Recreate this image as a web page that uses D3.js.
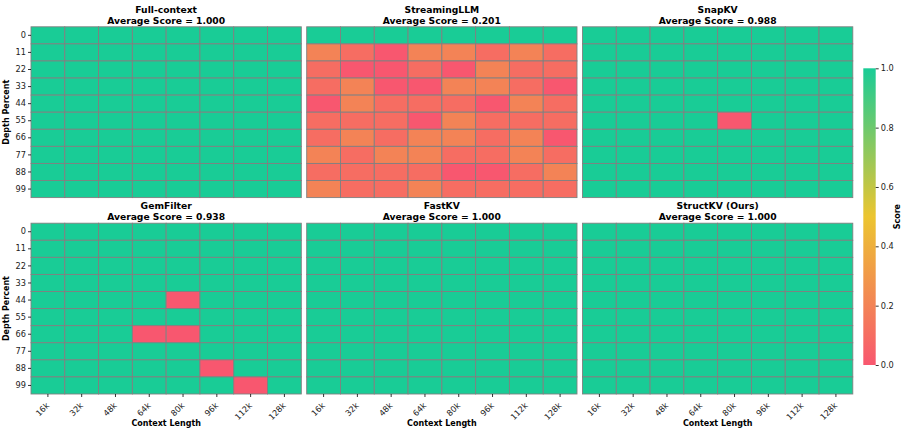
<!DOCTYPE html>
<html>
<head>
<meta charset="utf-8">
<script src="https://cdn.jsdelivr.net/npm/d3@7"></script>
<style>
  body { margin: 0; background: #fff; }
  svg { font-family: 'DejaVu Sans', sans-serif; }
  .axis path { display: none; }
  .axis line { stroke: #000; stroke-width: 0.8; }
  .axis text { font-family: 'DejaVu Sans', sans-serif; font-size: 8.2px; fill: #222; }
</style>
</head>
<body>
<div id="chart"></div>
<script>
'use strict';

var depths = [0, 11, 22, 33, 44, 55, 66, 77, 88, 99];
var contexts = ['16k', '32k', '48k', '64k', '80k', '96k', '112k', '128k'];
var methods = ['Full-context', 'StreamingLLM', 'SnapKV', 'GemFilter', 'FastKV', 'StructKV (Ours)'];
var averages = ['1.000', '0.201', '0.988', '0.938', '1.000', '1.000'];
var cbarTicks = [0, 0.2, 0.4, 0.6, 0.8, 1.0];

var fullContext = [
	[1, 1, 1, 1, 1, 1, 1, 1],
	[1, 1, 1, 1, 1, 1, 1, 1],
	[1, 1, 1, 1, 1, 1, 1, 1],
	[1, 1, 1, 1, 1, 1, 1, 1],
	[1, 1, 1, 1, 1, 1, 1, 1],
	[1, 1, 1, 1, 1, 1, 1, 1],
	[1, 1, 1, 1, 1, 1, 1, 1],
	[1, 1, 1, 1, 1, 1, 1, 1],
	[1, 1, 1, 1, 1, 1, 1, 1],
	[1, 1, 1, 1, 1, 1, 1, 1]
];
var streamingLLM = [
	[1, 1, 1, 1, 1, 1, 1, 1],
	[0.2, 0.1, 0.0, 0.2, 0.2, 0.1, 0.2, 0.1],
	[0.1, 0.0, 0.0, 0.1, 0.0, 0.2, 0.1, 0.1],
	[0.1, 0.2, 0.0, 0.0, 0.2, 0.2, 0.1, 0.0],
	[0.0, 0.2, 0.1, 0.1, 0.1, 0.0, 0.2, 0.1],
	[0.1, 0.1, 0.1, 0.0, 0.2, 0.1, 0.1, 0.1],
	[0.1, 0.2, 0.1, 0.2, 0.2, 0.1, 0.2, 0.0],
	[0.2, 0.1, 0.2, 0.2, 0.1, 0.1, 0.2, 0.1],
	[0.1, 0.1, 0.1, 0.1, 0.0, 0.0, 0.1, 0.2],
	[0.2, 0.1, 0.1, 0.2, 0.1, 0.1, 0.1, 0.1]
];
var snapKV = [
	[1, 1, 1, 1, 1, 1, 1, 1],
	[1, 1, 1, 1, 1, 1, 1, 1],
	[1, 1, 1, 1, 1, 1, 1, 1],
	[1, 1, 1, 1, 1, 1, 1, 1],
	[1, 1, 1, 1, 1, 1, 1, 1],
	[1, 1, 1, 1, 0, 1, 1, 1],
	[1, 1, 1, 1, 1, 1, 1, 1],
	[1, 1, 1, 1, 1, 1, 1, 1],
	[1, 1, 1, 1, 1, 1, 1, 1],
	[1, 1, 1, 1, 1, 1, 1, 1]
];
var gemFilter = [
	[1, 1, 1, 1, 1, 1, 1, 1],
	[1, 1, 1, 1, 1, 1, 1, 1],
	[1, 1, 1, 1, 1, 1, 1, 1],
	[1, 1, 1, 1, 1, 1, 1, 1],
	[1, 1, 1, 1, 0, 1, 1, 1],
	[1, 1, 1, 1, 1, 1, 1, 1],
	[1, 1, 1, 0, 0, 1, 1, 1],
	[1, 1, 1, 1, 1, 1, 1, 1],
	[1, 1, 1, 1, 1, 0, 1, 1],
	[1, 1, 1, 1, 1, 1, 0, 1]
];
var fastKV = [
	[1, 1, 1, 1, 1, 1, 1, 1],
	[1, 1, 1, 1, 1, 1, 1, 1],
	[1, 1, 1, 1, 1, 1, 1, 1],
	[1, 1, 1, 1, 1, 1, 1, 1],
	[1, 1, 1, 1, 1, 1, 1, 1],
	[1, 1, 1, 1, 1, 1, 1, 1],
	[1, 1, 1, 1, 1, 1, 1, 1],
	[1, 1, 1, 1, 1, 1, 1, 1],
	[1, 1, 1, 1, 1, 1, 1, 1],
	[1, 1, 1, 1, 1, 1, 1, 1]
];
var structKV = [
	[1, 1, 1, 1, 1, 1, 1, 1],
	[1, 1, 1, 1, 1, 1, 1, 1],
	[1, 1, 1, 1, 1, 1, 1, 1],
	[1, 1, 1, 1, 1, 1, 1, 1],
	[1, 1, 1, 1, 1, 1, 1, 1],
	[1, 1, 1, 1, 1, 1, 1, 1],
	[1, 1, 1, 1, 1, 1, 1, 1],
	[1, 1, 1, 1, 1, 1, 1, 1],
	[1, 1, 1, 1, 1, 1, 1, 1],
	[1, 1, 1, 1, 1, 1, 1, 1]
];
var scores = [fullContext, streamingLLM, snapKV, gemFilter, fastKV, structKV];

var W = 909, H = 434;
var colX = [31, 306.7, 582.5];
var rowY = [26.8, 223.2];
var pw = 270.3, ph = 170.8;

var color = d3.scaleLinear()
	.domain([0, 0.5, 1])
	.range(['#f8576f', '#ecc530', '#19cc96']);

var svg = d3.select('#chart').append('svg')
	.attr('width', W)
	.attr('height', H);

var x = d3.scaleBand().domain(contexts).range([0, pw]);
var y = d3.scaleBand().domain(depths).range([0, ph]);

methods.forEach(function(name, k){
	var col = k % 3, row = Math.floor(k / 3);
	var g = svg.append('g')
		.attr('transform', 'translate(' + colX[col] + ',' + rowY[row] + ')');

	var cells = [];
	scores[k].forEach(function(r, i){
		r.forEach(function(v, j){
			cells.push({depth: depths[i], ctx: contexts[j], v: v});
		});
	});

	g.selectAll('rect.cell').data(cells).enter().append('rect')
		.attr('class', 'cell')
		.attr('x', function(d){ return x(d.ctx); })
		.attr('y', function(d){ return y(d.depth); })
		.attr('width', x.bandwidth())
		.attr('height', y.bandwidth())
		.attr('fill', function(d){ return color(d.v); })
		.attr('stroke', '#808080')
		.attr('stroke-width', 0.9);

	g.append('text')
		.attr('x', pw / 2).attr('y', -14)
		.attr('text-anchor', 'middle')
		.attr('font-size', 9.2).attr('font-weight', 'bold')
		.text(name);
	g.append('text')
		.attr('x', pw / 2).attr('y', -3)
		.attr('text-anchor', 'middle')
		.attr('font-size', 9.2).attr('font-weight', 'bold')
		.text('Average Score = ' + averages[k]);

	if (col === 0) {
		g.append('g').attr('class', 'axis')
			.call(d3.axisLeft(y).tickSize(3).tickPadding(2));
		g.append('text')
			.attr('transform', 'translate(-22,' + ph / 2 + ') rotate(-90)')
			.attr('text-anchor', 'middle')
			.attr('font-size', 8).attr('font-weight', 'bold')
			.text('Depth Percent');
	}
	if (row === 1) {
		var xa = g.append('g').attr('class', 'axis')
			.attr('transform', 'translate(0,' + ph + ')')
			.call(d3.axisBottom(x).tickSize(3).tickPadding(2));
		xa.selectAll('text')
			.attr('text-anchor', 'end')
			.attr('y', 0)
			.attr('dy', 0)
			.attr('transform', 'translate(2,12) rotate(-45)');
		g.append('text')
			.attr('x', pw / 2).attr('y', ph + 32)
			.attr('text-anchor', 'middle')
			.attr('font-size', 8).attr('font-weight', 'bold')
			.text('Context Length');
	}
});

// colorbar
var cbX = 863.3, cbY = 68.3, cbW = 12.4, cbH = 296.7;
var grad = svg.append('defs').append('linearGradient')
	.attr('id', 'cbar')
	.attr('x1', 0).attr('y1', 1).attr('x2', 0).attr('y2', 0);
d3.range(0, 1.001, 0.05).forEach(function(t){
	grad.append('stop')
		.attr('offset', t)
		.attr('stop-color', color(t));
});
svg.append('rect')
	.attr('x', cbX).attr('y', cbY)
	.attr('width', cbW).attr('height', cbH)
	.attr('fill', 'url(#cbar)');

var cy = d3.scaleLinear().domain([0, 1]).range([cbY + cbH, cbY]);
svg.append('g').attr('class', 'axis')
	.attr('transform', 'translate(' + (cbX + cbW) + ',0)')
	.call(d3.axisRight(cy).tickValues(cbarTicks).tickFormat(d3.format('.1f')).tickSize(3).tickPadding(2));

svg.append('text')
	.attr('transform', 'translate(900,' + (cbY + cbH / 2) + ') rotate(-90)')
	.attr('text-anchor', 'middle')
	.attr('font-size', 8).attr('font-weight', 'bold')
	.text('Score');
</script>
</body>
</html>
